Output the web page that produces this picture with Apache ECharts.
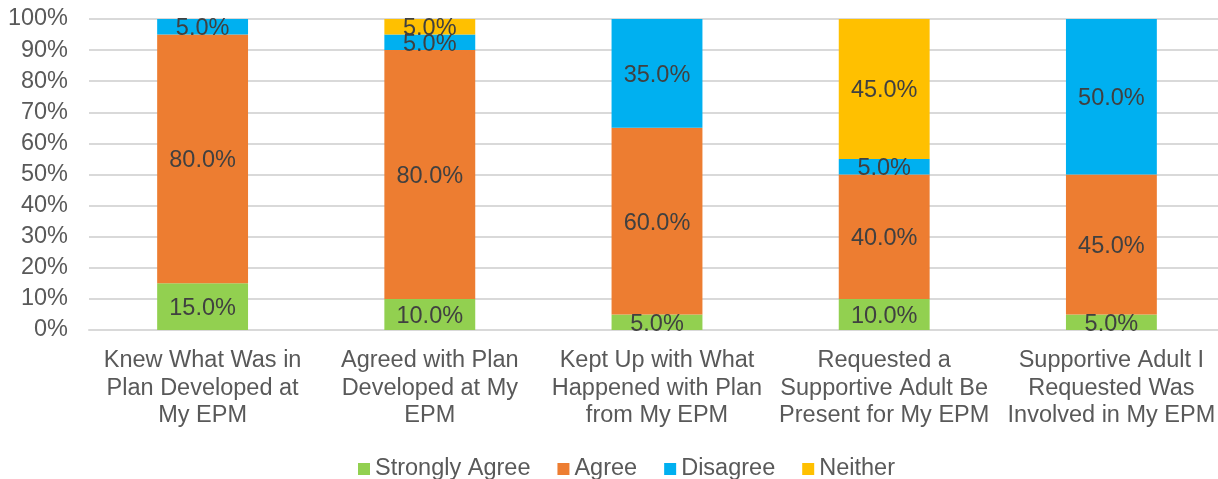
<!DOCTYPE html>
<html>
<head>
<meta charset="utf-8">
<script src="https://cdn.jsdelivr.net/npm/echarts@6/dist/echarts.min.js"></script>
<style>
html,body{margin:0;padding:0;background:#fff;overflow:hidden;width:1218px;height:479px;}
#chart{width:1226px;height:479px;}
</style>
</head>
<body>
<div id="chart"></div>
<script>
const categories = [
  'Knew What Was in\nPlan Developed at\nMy EPM',
  'Agreed with Plan\nDeveloped at My\nEPM',
  'Kept Up with What\nHappened with Plan\nfrom My EPM',
  'Requested a\nSupportive Adult Be\nPresent for My EPM',
  'Supportive Adult I\nRequested Was\nInvolved in My EPM'
];
const stronglyAgree = [15, 10, 5, 10, 5];
const agree = [80, 80, 60, 40, 45];
const disagree = [5, 5, 35, 5, 50];
const neither = [null, 5, null, 45, null];
const yTicks = [0, 10, 20, 30, 40, 50, 60, 70, 80, 90, 100];

const FONT = '"Liberation Sans", Arial, sans-serif';
const colors = ['#92D050', '#ED7D31', '#00B0F0', '#FFC000'];
const FS = 23.5;

function mk(name, data, color) {
  return {
    name: name,
    type: 'bar',
    stack: 'total',
    data: data,
    barWidth: '40%',
    itemStyle: { color: color },
    label: {
      show: true,
      position: 'inside',
      offset: [0, 2],
      formatter: p => (p.value == null ? '' : p.value.toFixed(1) + '%'),
      color: '#404040',
      fontSize: FS,
      fontFamily: FONT
    }
  };
}

const chart = echarts.init(document.getElementById('chart'), null, { renderer: 'canvas' });
chart.setOption({
  animation: false,
  color: colors,
  grid: { left: 89, right: 1, top: 19, bottom: 149, containLabel: false },
  legend: {
    left: 353,
    top: 452,
    itemWidth: 12,
    itemHeight: 12,
    itemGap: 27,
    icon: 'rect',
    textStyle: { color: '#595959', fontSize: FS, fontFamily: FONT },
    data: ['Strongly Agree', 'Agree', 'Disagree', 'Neither']
  },
  xAxis: {
    type: 'category',
    data: categories,
    axisTick: { show: false },
    axisLine: { lineStyle: { color: '#D9D9D9', width: 2 } },
    axisLabel: {
      color: '#595959',
      fontSize: FS,
      fontFamily: FONT,
      lineHeight: 27.5,
      margin: 17,
      interval: 0,
      align: 'center'
    }
  },
  yAxis: {
    type: 'value',
    min: 0,
    max: 100,
    interval: 10,
    axisLine: { show: false },
    axisTick: { show: false },
    splitLine: { lineStyle: { color: '#D9D9D9', width: 2 } },
    axisLabel: {
      color: '#595959',
      fontSize: FS,
      fontFamily: FONT,
      margin: 21,
      padding: [4, 0, 0, 0],
      formatter: v => (yTicks.includes(v) ? v + '%' : '')
    }
  },
  series: [
    mk('Strongly Agree', stronglyAgree, colors[0]),
    mk('Agree', agree, colors[1]),
    mk('Disagree', disagree, colors[2]),
    mk('Neither', neither, colors[3])
  ]
});
</script>
</body>
</html>
